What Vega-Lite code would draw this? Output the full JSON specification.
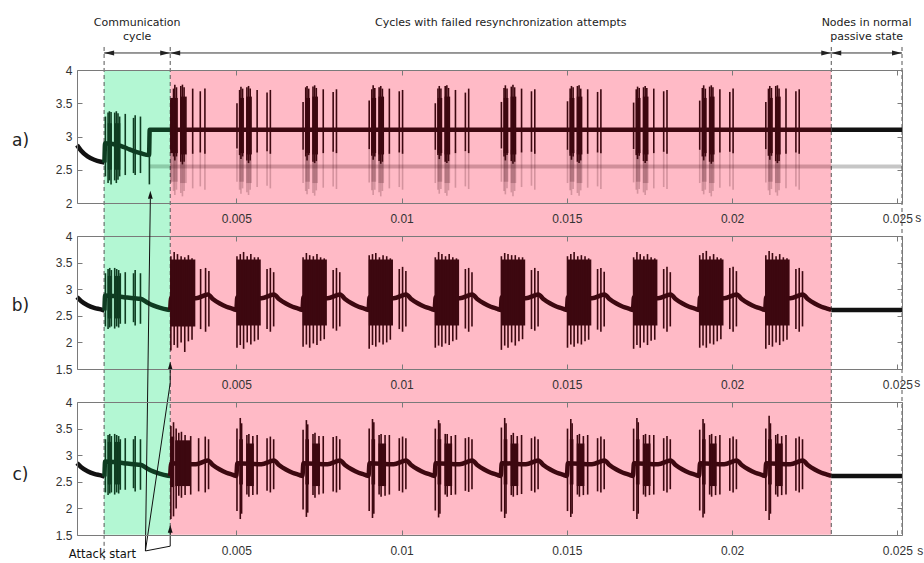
{
"$schema":"https://vega.github.io/schema/vega-lite/v6.json",
"background":"white",
"padding":{"left":11,"top":16,"right":0,"bottom":0},
"bounds":"flush",
"spacing":33,
"config":{"view":{"stroke":null},"axis":{"grid":false,"domainColor":"#7a7a7a","tickColor":"#7a7a7a","labelFont":"Liberation Sans","labelFontSize":12,"labelColor":"#333"}},
"datasets":{
"regions":[{"t0":0.001,"t1":0.003,"r":"comm"},{"t0":0.003,"t1":0.023,"r":"att"}],
"vlines":[{"t":0.001},{"t":0.003},{"t":0.023},{"t":0.02514}],
"spans":[{"t0":0.001,"t1":0.003},{"t0":0.003,"t1":0.023},{"t0":0.023,"t1":0.02514}],
"heads":[{"t":0.002,"label":"Communication\ncycle"},{"t":0.013,"label":"Cycles with failed resynchronization attempts"},{"t":0.02407,"label":"Nodes in normal\npassive state"}],
"aL":[{"t":0.00018,"v":2.87,"s":"pre"},{"t":0.0003,"v":2.79,"s":"pre"},{"t":0.0005,"v":2.7,"s":"pre"},{"t":0.0007,"v":2.65,"s":"pre"},{"t":0.0009,"v":2.62,"s":"pre"},{"t":0.00101,"v":2.61,"s":"pre"},
{"t":0.00101,"v":2.61,"s":"comm"},{"t":0.00103,"v":2.9,"s":"comm"},{"t":0.0015,"v":2.86,"s":"comm"},{"t":0.0017,"v":2.82,"s":"comm"},{"t":0.0019,"v":2.78,"s":"comm"},{"t":0.0021,"v":2.75,"s":"comm"},{"t":0.00236,"v":2.72,"s":"comm"},{"t":0.00238,"v":3.1,"s":"comm"},{"t":0.003,"v":3.1,"s":"comm"},
{"t":0.003,"v":3.1,"s":"att"},{"t":0.023,"v":3.1,"s":"att"},{"t":0.023,"v":3.1,"s":"post"},{"t":0.02514,"v":3.1,"s":"post"}],
"aE":[{"t":0.00238,"v":2.55,"s":"comm"},{"t":0.003,"v":2.55,"s":"comm"},{"t":0.003,"v":2.55,"s":"att"},{"t":0.023,"v":2.55,"s":"att"},{"t":0.023,"v":2.55,"s":"post"},{"t":0.02514,"v":2.55,"s":"post"}],
"aS":[{"t":0.00104,"lo":2.4,"hi":3.3},{"t":0.00112,"lo":2.3,"hi":3.36},{"t":0.00116,"lo":2.34,"hi":3.38},{"t":0.00121,"lo":2.28,"hi":3.37},{"t":0.00132,"lo":2.34,"hi":3.36},{"t":0.00137,"lo":2.3,"hi":3.38},{"t":0.00142,"lo":2.35,"hi":3.35},{"t":0.00147,"lo":2.4,"hi":3.3},{"t":0.00164,"lo":2.42,"hi":3.34},{"t":0.00189,"lo":2.45,"hi":3.28},{"t":0.00194,"lo":2.42,"hi":3.32},{"t":0.0021,"lo":2.45,"hi":3.3},{"t":0.00237,"lo":2.28,"hi":3.1},
{"t":0.00302,"lo":2.8,"hi":3.55,"e":2.3},{"t":0.0031,"lo":2.7,"hi":3.72,"e":2.18},{"t":0.00314,"lo":2.64,"hi":3.78,"e":2.12},{"t":0.00319,"lo":2.7,"hi":3.74,"e":2.2},{"t":0.00332,"lo":2.62,"hi":3.76,"e":2.15},{"t":0.00337,"lo":2.58,"hi":3.78,"e":2.1},{"t":0.00342,"lo":2.62,"hi":3.74,"e":2.18},{"t":0.00368,"lo":2.74,"hi":3.72,"e":2.22},{"t":0.00391,"lo":2.76,"hi":3.68,"e":2.25},{"t":0.00405,"lo":2.74,"hi":3.72,"e":2.2},
{"t":0.00502,"lo":2.82,"hi":3.5,"e":2.32},{"t":0.0051,"lo":2.72,"hi":3.7,"e":2.2},{"t":0.00514,"lo":2.66,"hi":3.75,"e":2.14},{"t":0.00519,"lo":2.7,"hi":3.72,"e":2.22},{"t":0.00532,"lo":2.64,"hi":3.74,"e":2.16},{"t":0.00537,"lo":2.6,"hi":3.76,"e":2.12},{"t":0.00542,"lo":2.64,"hi":3.72,"e":2.2},{"t":0.00563,"lo":2.76,"hi":3.7,"e":2.24},{"t":0.00593,"lo":2.78,"hi":3.66,"e":2.26},{"t":0.00603,"lo":2.74,"hi":3.7,"e":2.22},
{"t":0.00702,"lo":2.8,"hi":3.52,"e":2.3},{"t":0.0071,"lo":2.7,"hi":3.74,"e":2.18},{"t":0.00714,"lo":2.64,"hi":3.76,"e":2.13},{"t":0.00719,"lo":2.72,"hi":3.72,"e":2.21},{"t":0.00732,"lo":2.62,"hi":3.75,"e":2.15},{"t":0.00737,"lo":2.6,"hi":3.77,"e":2.11},{"t":0.00742,"lo":2.63,"hi":3.73,"e":2.19},{"t":0.00763,"lo":2.75,"hi":3.71,"e":2.23},{"t":0.00793,"lo":2.77,"hi":3.67,"e":2.25},{"t":0.00803,"lo":2.75,"hi":3.71,"e":2.21},
{"t":0.00902,"lo":2.81,"hi":3.54,"e":2.31},{"t":0.0091,"lo":2.71,"hi":3.71,"e":2.19},{"t":0.00914,"lo":2.65,"hi":3.77,"e":2.12},{"t":0.00919,"lo":2.7,"hi":3.73,"e":2.2},{"t":0.00932,"lo":2.63,"hi":3.74,"e":2.16},{"t":0.00937,"lo":2.59,"hi":3.76,"e":2.1},{"t":0.00942,"lo":2.62,"hi":3.72,"e":2.18},{"t":0.00963,"lo":2.74,"hi":3.72,"e":2.22},{"t":0.00993,"lo":2.76,"hi":3.68,"e":2.24},{"t":0.01003,"lo":2.74,"hi":3.7,"e":2.2},
{"t":0.01102,"lo":2.8,"hi":3.5,"e":2.3},{"t":0.0111,"lo":2.72,"hi":3.72,"e":2.2},{"t":0.01114,"lo":2.66,"hi":3.76,"e":2.14},{"t":0.01119,"lo":2.71,"hi":3.72,"e":2.21},{"t":0.01132,"lo":2.62,"hi":3.76,"e":2.15},{"t":0.01137,"lo":2.6,"hi":3.77,"e":2.11},{"t":0.01142,"lo":2.63,"hi":3.73,"e":2.19},{"t":0.01163,"lo":2.75,"hi":3.7,"e":2.23},{"t":0.01193,"lo":2.78,"hi":3.66,"e":2.25},{"t":0.01203,"lo":2.75,"hi":3.72,"e":2.21},
{"t":0.01302,"lo":2.82,"hi":3.52,"e":2.32},{"t":0.0131,"lo":2.7,"hi":3.73,"e":2.18},{"t":0.01314,"lo":2.64,"hi":3.77,"e":2.13},{"t":0.01319,"lo":2.72,"hi":3.72,"e":2.22},{"t":0.01332,"lo":2.63,"hi":3.75,"e":2.16},{"t":0.01337,"lo":2.59,"hi":3.78,"e":2.1},{"t":0.01342,"lo":2.62,"hi":3.74,"e":2.18},{"t":0.01363,"lo":2.76,"hi":3.72,"e":2.24},{"t":0.01393,"lo":2.77,"hi":3.68,"e":2.26},{"t":0.01403,"lo":2.74,"hi":3.71,"e":2.2},
{"t":0.01502,"lo":2.8,"hi":3.53,"e":2.3},{"t":0.0151,"lo":2.71,"hi":3.72,"e":2.19},{"t":0.01514,"lo":2.65,"hi":3.76,"e":2.12},{"t":0.01519,"lo":2.7,"hi":3.74,"e":2.21},{"t":0.01532,"lo":2.62,"hi":3.76,"e":2.15},{"t":0.01537,"lo":2.6,"hi":3.77,"e":2.11},{"t":0.01542,"lo":2.64,"hi":3.72,"e":2.19},{"t":0.01563,"lo":2.74,"hi":3.71,"e":2.23},{"t":0.01593,"lo":2.76,"hi":3.67,"e":2.25},{"t":0.01603,"lo":2.75,"hi":3.71,"e":2.21},
{"t":0.01702,"lo":2.81,"hi":3.51,"e":2.31},{"t":0.0171,"lo":2.72,"hi":3.71,"e":2.2},{"t":0.01714,"lo":2.66,"hi":3.75,"e":2.14},{"t":0.01719,"lo":2.71,"hi":3.73,"e":2.21},{"t":0.01732,"lo":2.63,"hi":3.74,"e":2.16},{"t":0.01737,"lo":2.6,"hi":3.76,"e":2.12},{"t":0.01742,"lo":2.63,"hi":3.73,"e":2.19},{"t":0.01763,"lo":2.75,"hi":3.72,"e":2.22},{"t":0.01793,"lo":2.77,"hi":3.68,"e":2.24},{"t":0.01803,"lo":2.74,"hi":3.7,"e":2.21},
{"t":0.01902,"lo":2.8,"hi":3.54,"e":2.3},{"t":0.0191,"lo":2.7,"hi":3.73,"e":2.18},{"t":0.01914,"lo":2.64,"hi":3.77,"e":2.13},{"t":0.01919,"lo":2.7,"hi":3.72,"e":2.2},{"t":0.01932,"lo":2.62,"hi":3.75,"e":2.15},{"t":0.01937,"lo":2.59,"hi":3.77,"e":2.1},{"t":0.01942,"lo":2.62,"hi":3.74,"e":2.18},{"t":0.01963,"lo":2.76,"hi":3.71,"e":2.23},{"t":0.01993,"lo":2.77,"hi":3.67,"e":2.25},{"t":0.02003,"lo":2.75,"hi":3.72,"e":2.2},
{"t":0.02102,"lo":2.81,"hi":3.52,"e":2.31},{"t":0.0211,"lo":2.71,"hi":3.72,"e":2.19},{"t":0.02114,"lo":2.65,"hi":3.76,"e":2.12},{"t":0.02119,"lo":2.71,"hi":3.73,"e":2.21},{"t":0.02132,"lo":2.63,"hi":3.76,"e":2.16},{"t":0.02137,"lo":2.6,"hi":3.77,"e":2.11},{"t":0.02142,"lo":2.63,"hi":3.72,"e":2.19},{"t":0.02163,"lo":2.74,"hi":3.72,"e":2.22},{"t":0.02193,"lo":2.76,"hi":3.68,"e":2.25},{"t":0.02203,"lo":2.74,"hi":3.71,"e":2.2}],
"aB":[{"t0":0.00111,"t1":0.00124,"lo":2.5,"hi":3.2},{"t0":0.00131,"t1":0.00149,"lo":2.5,"hi":3.2},
{"t0":0.003,"t1":0.00323,"lo":2.75,"hi":3.58,"e":2.32},{"t0":0.0033,"t1":0.0035,"lo":2.73,"hi":3.6,"e":2.3},
{"t0":0.00509,"t1":0.00523,"lo":2.75,"hi":3.58,"e":2.32},{"t0":0.0053,"t1":0.00547,"lo":2.73,"hi":3.6,"e":2.3},
{"t0":0.00709,"t1":0.00723,"lo":2.75,"hi":3.58,"e":2.32},{"t0":0.0073,"t1":0.00747,"lo":2.73,"hi":3.6,"e":2.3},
{"t0":0.00909,"t1":0.00923,"lo":2.75,"hi":3.58,"e":2.32},{"t0":0.0093,"t1":0.00947,"lo":2.73,"hi":3.6,"e":2.3},
{"t0":0.01109,"t1":0.01123,"lo":2.75,"hi":3.58,"e":2.32},{"t0":0.0113,"t1":0.01147,"lo":2.73,"hi":3.6,"e":2.3},
{"t0":0.01309,"t1":0.01323,"lo":2.75,"hi":3.58,"e":2.32},{"t0":0.0133,"t1":0.01347,"lo":2.73,"hi":3.6,"e":2.3},
{"t0":0.01509,"t1":0.01523,"lo":2.75,"hi":3.58,"e":2.32},{"t0":0.0153,"t1":0.01547,"lo":2.73,"hi":3.6,"e":2.3},
{"t0":0.01709,"t1":0.01723,"lo":2.75,"hi":3.58,"e":2.32},{"t0":0.0173,"t1":0.01747,"lo":2.73,"hi":3.6,"e":2.3},
{"t0":0.01909,"t1":0.01923,"lo":2.75,"hi":3.58,"e":2.32},{"t0":0.0193,"t1":0.01947,"lo":2.73,"hi":3.6,"e":2.3},
{"t0":0.02109,"t1":0.02123,"lo":2.75,"hi":3.58,"e":2.32},{"t0":0.0213,"t1":0.02147,"lo":2.73,"hi":3.6,"e":2.3}],
"bcL":[{"t":0.00018,"v":2.85,"s":"pre"},{"t":0.0003,"v":2.78,"s":"pre"},{"t":0.0005,"v":2.7,"s":"pre"},{"t":0.0007,"v":2.65,"s":"pre"},{"t":0.0009,"v":2.62,"s":"pre"},{"t":0.00101,"v":2.6,"s":"pre"},
{"t":0.00101,"v":2.6,"s":"comm"},{"t":0.00103,"v":2.88,"s":"comm"},{"t":0.0013,"v":2.87,"s":"comm"},{"t":0.0016,"v":2.85,"s":"comm"},{"t":0.0019,"v":2.83,"s":"comm"},{"t":0.0021,"v":2.82,"s":"comm"},{"t":0.0023,"v":2.75,"s":"comm"},{"t":0.0025,"v":2.69,"s":"comm"},{"t":0.0027,"v":2.65,"s":"comm"},{"t":0.0029,"v":2.62,"s":"comm"},{"t":0.003,"v":2.61,"s":"comm"},
{"t":0.003,"v":2.61,"s":"att"},{"t":0.00303,"v":2.85,"s":"att"},{"t":0.00378,"v":2.83,"s":"att"},{"t":0.00414,"v":2.9,"s":"att"},{"t":0.0043,"v":2.81,"s":"att"},{"t":0.0045,"v":2.73,"s":"att"},{"t":0.0047,"v":2.67,"s":"att"},{"t":0.0049,"v":2.63,"s":"att"},
{"t":0.005,"v":2.61,"s":"att"},{"t":0.00503,"v":2.85,"s":"att"},{"t":0.00576,"v":2.83,"s":"att"},{"t":0.00614,"v":2.9,"s":"att"},{"t":0.0063,"v":2.81,"s":"att"},{"t":0.0065,"v":2.73,"s":"att"},{"t":0.0067,"v":2.67,"s":"att"},{"t":0.0069,"v":2.63,"s":"att"},
{"t":0.007,"v":2.61,"s":"att"},{"t":0.00703,"v":2.85,"s":"att"},{"t":0.00776,"v":2.83,"s":"att"},{"t":0.00814,"v":2.9,"s":"att"},{"t":0.0083,"v":2.81,"s":"att"},{"t":0.0085,"v":2.73,"s":"att"},{"t":0.0087,"v":2.67,"s":"att"},{"t":0.0089,"v":2.63,"s":"att"},
{"t":0.009,"v":2.61,"s":"att"},{"t":0.00903,"v":2.85,"s":"att"},{"t":0.00976,"v":2.83,"s":"att"},{"t":0.01014,"v":2.9,"s":"att"},{"t":0.0103,"v":2.81,"s":"att"},{"t":0.0105,"v":2.73,"s":"att"},{"t":0.0107,"v":2.67,"s":"att"},{"t":0.0109,"v":2.63,"s":"att"},
{"t":0.011,"v":2.61,"s":"att"},{"t":0.01103,"v":2.85,"s":"att"},{"t":0.01176,"v":2.83,"s":"att"},{"t":0.01214,"v":2.9,"s":"att"},{"t":0.0123,"v":2.81,"s":"att"},{"t":0.0125,"v":2.73,"s":"att"},{"t":0.0127,"v":2.67,"s":"att"},{"t":0.0129,"v":2.63,"s":"att"},
{"t":0.013,"v":2.61,"s":"att"},{"t":0.01303,"v":2.85,"s":"att"},{"t":0.01376,"v":2.83,"s":"att"},{"t":0.01414,"v":2.9,"s":"att"},{"t":0.0143,"v":2.81,"s":"att"},{"t":0.0145,"v":2.73,"s":"att"},{"t":0.0147,"v":2.67,"s":"att"},{"t":0.0149,"v":2.63,"s":"att"},
{"t":0.015,"v":2.61,"s":"att"},{"t":0.01503,"v":2.85,"s":"att"},{"t":0.01576,"v":2.83,"s":"att"},{"t":0.01614,"v":2.9,"s":"att"},{"t":0.0163,"v":2.81,"s":"att"},{"t":0.0165,"v":2.73,"s":"att"},{"t":0.0167,"v":2.67,"s":"att"},{"t":0.0169,"v":2.63,"s":"att"},
{"t":0.017,"v":2.61,"s":"att"},{"t":0.01703,"v":2.85,"s":"att"},{"t":0.01776,"v":2.83,"s":"att"},{"t":0.01814,"v":2.9,"s":"att"},{"t":0.0183,"v":2.81,"s":"att"},{"t":0.0185,"v":2.73,"s":"att"},{"t":0.0187,"v":2.67,"s":"att"},{"t":0.0189,"v":2.63,"s":"att"},
{"t":0.019,"v":2.61,"s":"att"},{"t":0.01903,"v":2.85,"s":"att"},{"t":0.01976,"v":2.83,"s":"att"},{"t":0.02014,"v":2.9,"s":"att"},{"t":0.0203,"v":2.81,"s":"att"},{"t":0.0205,"v":2.73,"s":"att"},{"t":0.0207,"v":2.67,"s":"att"},{"t":0.0209,"v":2.63,"s":"att"},
{"t":0.021,"v":2.61,"s":"att"},{"t":0.02103,"v":2.85,"s":"att"},{"t":0.02176,"v":2.83,"s":"att"},{"t":0.02214,"v":2.9,"s":"att"},{"t":0.0223,"v":2.81,"s":"att"},{"t":0.0225,"v":2.73,"s":"att"},{"t":0.0227,"v":2.67,"s":"att"},{"t":0.0229,"v":2.63,"s":"att"},
{"t":0.023,"v":2.61,"s":"att"},{"t":0.023,"v":2.61,"s":"post"},{"t":0.02514,"v":2.61,"s":"post"}],
"bS":[{"t":0.00104,"lo":2.3,"hi":3.3},{"t":0.00112,"lo":2.25,"hi":3.38},{"t":0.00117,"lo":2.28,"hi":3.4},{"t":0.00122,"lo":2.3,"hi":3.36},{"t":0.00132,"lo":2.26,"hi":3.4},{"t":0.00138,"lo":2.3,"hi":3.38},{"t":0.00144,"lo":2.28,"hi":3.36},{"t":0.00149,"lo":2.35,"hi":3.3},{"t":0.00164,"lo":2.35,"hi":3.32},{"t":0.00189,"lo":2.38,"hi":3.3},{"t":0.00194,"lo":2.32,"hi":3.36},{"t":0.0021,"lo":2.35,"hi":3.3},
{"t":0.00302,"lo":1.85,"hi":3.62},{"t":0.00312,"lo":1.95,"hi":3.7},{"t":0.00322,"lo":1.9,"hi":3.66},{"t":0.00333,"lo":2.0,"hi":3.62},{"t":0.00344,"lo":1.82,"hi":3.6},{"t":0.00355,"lo":2.02,"hi":3.64},{"t":0.00366,"lo":2.05,"hi":3.58},{"t":0.00392,"lo":2.25,"hi":3.38},{"t":0.00407,"lo":2.2,"hi":3.4},{"t":0.00417,"lo":2.3,"hi":3.34},
{"t":0.00502,"lo":1.9,"hi":3.62},{"t":0.00512,"lo":1.95,"hi":3.66},{"t":0.00522,"lo":1.88,"hi":3.7},{"t":0.00533,"lo":2.0,"hi":3.62},{"t":0.00544,"lo":1.96,"hi":3.66},{"t":0.00555,"lo":2.02,"hi":3.6},{"t":0.00566,"lo":2.05,"hi":3.6},{"t":0.00593,"lo":2.25,"hi":3.38},{"t":0.00603,"lo":2.2,"hi":3.4},{"t":0.00613,"lo":2.3,"hi":3.32},
{"t":0.00702,"lo":1.92,"hi":3.6},{"t":0.00712,"lo":1.96,"hi":3.68},{"t":0.00722,"lo":1.9,"hi":3.64},{"t":0.00733,"lo":1.98,"hi":3.62},{"t":0.00744,"lo":1.95,"hi":3.66},{"t":0.00755,"lo":2.03,"hi":3.6},{"t":0.00766,"lo":2.06,"hi":3.58},{"t":0.00793,"lo":2.26,"hi":3.36},{"t":0.00803,"lo":2.22,"hi":3.4},{"t":0.00813,"lo":2.3,"hi":3.32},
{"t":0.00902,"lo":1.88,"hi":3.64},{"t":0.00912,"lo":1.95,"hi":3.66},{"t":0.00922,"lo":1.92,"hi":3.68},{"t":0.00933,"lo":2.0,"hi":3.6},{"t":0.00944,"lo":1.96,"hi":3.64},{"t":0.00955,"lo":2.0,"hi":3.62},{"t":0.00966,"lo":2.05,"hi":3.58},{"t":0.00993,"lo":2.25,"hi":3.38},{"t":0.01003,"lo":2.2,"hi":3.42},{"t":0.01013,"lo":2.3,"hi":3.34},
{"t":0.01102,"lo":1.9,"hi":3.6},{"t":0.01112,"lo":1.94,"hi":3.7},{"t":0.01122,"lo":1.92,"hi":3.66},{"t":0.01133,"lo":1.98,"hi":3.62},{"t":0.01144,"lo":1.95,"hi":3.66},{"t":0.01155,"lo":2.02,"hi":3.6},{"t":0.01166,"lo":2.05,"hi":3.58},{"t":0.01193,"lo":2.26,"hi":3.38},{"t":0.01203,"lo":2.2,"hi":3.4},{"t":0.01213,"lo":2.3,"hi":3.32},
{"t":0.01302,"lo":1.86,"hi":3.62},{"t":0.01312,"lo":1.94,"hi":3.68},{"t":0.01322,"lo":1.9,"hi":3.66},{"t":0.01333,"lo":2.0,"hi":3.64},{"t":0.01344,"lo":1.94,"hi":3.64},{"t":0.01355,"lo":2.02,"hi":3.6},{"t":0.01366,"lo":2.06,"hi":3.6},{"t":0.01393,"lo":2.25,"hi":3.36},{"t":0.01403,"lo":2.22,"hi":3.4},{"t":0.01413,"lo":2.3,"hi":3.34},
{"t":0.01502,"lo":1.9,"hi":3.62},{"t":0.01512,"lo":1.96,"hi":3.66},{"t":0.01522,"lo":1.92,"hi":3.7},{"t":0.01533,"lo":1.98,"hi":3.62},{"t":0.01544,"lo":1.96,"hi":3.64},{"t":0.01555,"lo":2.02,"hi":3.62},{"t":0.01566,"lo":2.05,"hi":3.58},{"t":0.01593,"lo":2.24,"hi":3.38},{"t":0.01603,"lo":2.2,"hi":3.4},{"t":0.01613,"lo":2.3,"hi":3.33},
{"t":0.01702,"lo":1.88,"hi":3.6},{"t":0.01712,"lo":1.95,"hi":3.7},{"t":0.01722,"lo":1.9,"hi":3.66},{"t":0.01733,"lo":2.0,"hi":3.62},{"t":0.01744,"lo":1.95,"hi":3.66},{"t":0.01755,"lo":2.03,"hi":3.6},{"t":0.01766,"lo":2.05,"hi":3.58},{"t":0.01793,"lo":2.26,"hi":3.38},{"t":0.01803,"lo":2.2,"hi":3.42},{"t":0.01813,"lo":2.3,"hi":3.32},
{"t":0.01902,"lo":1.9,"hi":3.64},{"t":0.01912,"lo":1.94,"hi":3.68},{"t":0.01922,"lo":1.9,"hi":3.72},{"t":0.01933,"lo":1.98,"hi":3.62},{"t":0.01944,"lo":1.96,"hi":3.66},{"t":0.01955,"lo":2.02,"hi":3.6},{"t":0.01966,"lo":2.06,"hi":3.58},{"t":0.01993,"lo":2.25,"hi":3.4},{"t":0.02003,"lo":2.2,"hi":3.42},{"t":0.02013,"lo":2.3,"hi":3.34},
{"t":0.02102,"lo":1.88,"hi":3.64},{"t":0.02112,"lo":1.95,"hi":3.72},{"t":0.02122,"lo":1.92,"hi":3.68},{"t":0.02133,"lo":2.0,"hi":3.62},{"t":0.02144,"lo":1.95,"hi":3.66},{"t":0.02155,"lo":2.02,"hi":3.6},{"t":0.02166,"lo":2.05,"hi":3.58},{"t":0.02193,"lo":2.25,"hi":3.38},{"t":0.02203,"lo":2.2,"hi":3.4},{"t":0.02213,"lo":2.3,"hi":3.34}],
"bB":[{"t0":0.00111,"t1":0.00124,"lo":2.45,"hi":3.25},{"t0":0.0013,"t1":0.0015,"lo":2.45,"hi":3.25},
{"t0":0.003,"t1":0.00376,"lo":2.3,"hi":3.56},{"t0":0.00501,"t1":0.00574,"lo":2.32,"hi":3.56},{"t0":0.00701,"t1":0.00774,"lo":2.32,"hi":3.56},{"t0":0.00901,"t1":0.00974,"lo":2.32,"hi":3.56},{"t0":0.01101,"t1":0.01174,"lo":2.32,"hi":3.56},{"t0":0.01301,"t1":0.01374,"lo":2.32,"hi":3.56},{"t0":0.01501,"t1":0.01574,"lo":2.32,"hi":3.56},{"t0":0.01701,"t1":0.01774,"lo":2.32,"hi":3.56},{"t0":0.01901,"t1":0.01974,"lo":2.32,"hi":3.56},{"t0":0.02101,"t1":0.02174,"lo":2.32,"hi":3.56}],
"cS":[{"t":0.00104,"lo":2.3,"hi":3.3},{"t":0.00112,"lo":2.25,"hi":3.38},{"t":0.00117,"lo":2.28,"hi":3.4},{"t":0.00122,"lo":2.3,"hi":3.36},{"t":0.00132,"lo":2.26,"hi":3.4},{"t":0.00138,"lo":2.3,"hi":3.38},{"t":0.00144,"lo":2.28,"hi":3.36},{"t":0.00149,"lo":2.35,"hi":3.3},{"t":0.00164,"lo":2.35,"hi":3.32},{"t":0.00189,"lo":2.38,"hi":3.3},{"t":0.00194,"lo":2.32,"hi":3.36},{"t":0.0021,"lo":2.35,"hi":3.3},
{"t":0.00302,"lo":1.8,"hi":3.55},{"t":0.0031,"lo":1.85,"hi":3.62},{"t":0.00318,"lo":2.0,"hi":3.5},{"t":0.00326,"lo":2.24,"hi":3.42},{"t":0.00334,"lo":2.2,"hi":3.44},{"t":0.00345,"lo":2.25,"hi":3.38},{"t":0.00362,"lo":2.26,"hi":3.36},{"t":0.00386,"lo":2.32,"hi":3.32},{"t":0.00406,"lo":2.3,"hi":3.35},{"t":0.00416,"lo":2.36,"hi":3.3},
{"t":0.00502,"lo":1.95,"hi":3.5},{"t":0.00512,"lo":1.8,"hi":3.7},{"t":0.00516,"lo":1.9,"hi":3.6},{"t":0.00532,"lo":2.26,"hi":3.38},{"t":0.00538,"lo":2.22,"hi":3.4},{"t":0.0055,"lo":2.25,"hi":3.36},{"t":0.00563,"lo":2.26,"hi":3.38},{"t":0.00593,"lo":2.33,"hi":3.32},{"t":0.00603,"lo":2.3,"hi":3.35},{"t":0.00613,"lo":2.36,"hi":3.3},
{"t":0.00702,"lo":1.98,"hi":3.48},{"t":0.00712,"lo":1.84,"hi":3.66},{"t":0.00716,"lo":1.92,"hi":3.58},{"t":0.00732,"lo":2.25,"hi":3.4},{"t":0.00738,"lo":2.2,"hi":3.42},{"t":0.0075,"lo":2.26,"hi":3.36},{"t":0.00763,"lo":2.28,"hi":3.36},{"t":0.00793,"lo":2.32,"hi":3.34},{"t":0.00803,"lo":2.3,"hi":3.36},{"t":0.00813,"lo":2.35,"hi":3.3},
{"t":0.00902,"lo":1.95,"hi":3.5},{"t":0.00912,"lo":1.82,"hi":3.68},{"t":0.00916,"lo":1.9,"hi":3.62},{"t":0.00932,"lo":2.26,"hi":3.38},{"t":0.00938,"lo":2.22,"hi":3.4},{"t":0.0095,"lo":2.24,"hi":3.38},{"t":0.00963,"lo":2.26,"hi":3.38},{"t":0.00993,"lo":2.33,"hi":3.32},{"t":0.01003,"lo":2.3,"hi":3.35},{"t":0.01013,"lo":2.36,"hi":3.32},
{"t":0.01102,"lo":1.96,"hi":3.5},{"t":0.01112,"lo":1.83,"hi":3.66},{"t":0.01116,"lo":1.9,"hi":3.6},{"t":0.01132,"lo":2.26,"hi":3.4},{"t":0.01138,"lo":2.22,"hi":3.4},{"t":0.0115,"lo":2.25,"hi":3.36},{"t":0.01163,"lo":2.26,"hi":3.38},{"t":0.01193,"lo":2.33,"hi":3.32},{"t":0.01203,"lo":2.31,"hi":3.34},{"t":0.01213,"lo":2.36,"hi":3.3},
{"t":0.01302,"lo":1.94,"hi":3.52},{"t":0.01312,"lo":1.82,"hi":3.7},{"t":0.01316,"lo":1.9,"hi":3.6},{"t":0.01332,"lo":2.25,"hi":3.38},{"t":0.01338,"lo":2.22,"hi":3.42},{"t":0.0135,"lo":2.25,"hi":3.36},{"t":0.01363,"lo":2.27,"hi":3.38},{"t":0.01393,"lo":2.33,"hi":3.32},{"t":0.01403,"lo":2.3,"hi":3.35},{"t":0.01413,"lo":2.36,"hi":3.3},
{"t":0.01502,"lo":1.95,"hi":3.5},{"t":0.01512,"lo":1.84,"hi":3.68},{"t":0.01516,"lo":1.9,"hi":3.6},{"t":0.01532,"lo":2.26,"hi":3.38},{"t":0.01538,"lo":2.22,"hi":3.4},{"t":0.0155,"lo":2.25,"hi":3.36},{"t":0.01563,"lo":2.26,"hi":3.38},{"t":0.01593,"lo":2.32,"hi":3.32},{"t":0.01603,"lo":2.3,"hi":3.35},{"t":0.01613,"lo":2.36,"hi":3.3},
{"t":0.01702,"lo":1.95,"hi":3.5},{"t":0.01712,"lo":1.8,"hi":3.7},{"t":0.01716,"lo":1.9,"hi":3.62},{"t":0.01732,"lo":2.26,"hi":3.38},{"t":0.01738,"lo":2.22,"hi":3.4},{"t":0.0175,"lo":2.25,"hi":3.38},{"t":0.01763,"lo":2.26,"hi":3.38},{"t":0.01793,"lo":2.33,"hi":3.32},{"t":0.01803,"lo":2.3,"hi":3.36},{"t":0.01813,"lo":2.36,"hi":3.3},
{"t":0.01902,"lo":1.96,"hi":3.48},{"t":0.01912,"lo":1.83,"hi":3.68},{"t":0.01916,"lo":1.9,"hi":3.6},{"t":0.01932,"lo":2.26,"hi":3.38},{"t":0.01938,"lo":2.22,"hi":3.4},{"t":0.0195,"lo":2.25,"hi":3.36},{"t":0.01963,"lo":2.26,"hi":3.38},{"t":0.01993,"lo":2.33,"hi":3.32},{"t":0.02003,"lo":2.3,"hi":3.35},{"t":0.02013,"lo":2.36,"hi":3.3},
{"t":0.02102,"lo":1.95,"hi":3.5},{"t":0.02112,"lo":1.78,"hi":3.74},{"t":0.02116,"lo":1.9,"hi":3.6},{"t":0.02132,"lo":2.26,"hi":3.38},{"t":0.02138,"lo":2.22,"hi":3.4},{"t":0.0215,"lo":2.25,"hi":3.36},{"t":0.02163,"lo":2.26,"hi":3.38},{"t":0.02193,"lo":2.33,"hi":3.32},{"t":0.02203,"lo":2.3,"hi":3.35},{"t":0.02213,"lo":2.36,"hi":3.3}],
"cB":[{"t0":0.00111,"t1":0.00124,"lo":2.45,"hi":3.25},{"t0":0.0013,"t1":0.0015,"lo":2.45,"hi":3.25},
{"t0":0.003,"t1":0.00312,"lo":2.4,"hi":3.35},{"t0":0.00315,"t1":0.0036,"lo":2.42,"hi":3.28},
{"t0":0.00509,"t1":0.0052,"lo":2.45,"hi":3.3},{"t0":0.0053,"t1":0.00553,"lo":2.42,"hi":3.22},
{"t0":0.00709,"t1":0.0072,"lo":2.45,"hi":3.3},{"t0":0.0073,"t1":0.00753,"lo":2.42,"hi":3.22},
{"t0":0.00909,"t1":0.0092,"lo":2.45,"hi":3.3},{"t0":0.0093,"t1":0.00953,"lo":2.42,"hi":3.22},
{"t0":0.01109,"t1":0.0112,"lo":2.45,"hi":3.3},{"t0":0.0113,"t1":0.01153,"lo":2.42,"hi":3.22},
{"t0":0.01309,"t1":0.0132,"lo":2.45,"hi":3.3},{"t0":0.0133,"t1":0.01353,"lo":2.42,"hi":3.22},
{"t0":0.01509,"t1":0.0152,"lo":2.45,"hi":3.3},{"t0":0.0153,"t1":0.01553,"lo":2.42,"hi":3.22},
{"t0":0.01709,"t1":0.0172,"lo":2.45,"hi":3.3},{"t0":0.0173,"t1":0.01753,"lo":2.42,"hi":3.22},
{"t0":0.01909,"t1":0.0192,"lo":2.45,"hi":3.3},{"t0":0.0193,"t1":0.01953,"lo":2.42,"hi":3.22},
{"t0":0.02109,"t1":0.0212,"lo":2.45,"hi":3.3},{"t0":0.0213,"t1":0.02153,"lo":2.42,"hi":3.22}],
"atk":[{"k":1,"o":0,"t":0.00225,"v":1.2},{"k":1,"o":1,"t":0.002399,"v":7.82},{"k":2,"o":0,"t":0.00225,"v":1.2},{"k":2,"o":1,"t":0.003,"v":4.357},{"k":2,"o":2,"t":0.003,"v":4.607},{"k":3,"o":0,"t":0.00225,"v":1.2},{"k":3,"o":1,"t":0.003,"v":1.29},{"k":3,"o":2,"t":0.003,"v":1.556}]
},
"vconcat":[
{"width":825,"height":133,
"resolve":{"scale":{"color":"independent"},"axis":{"x":"independent","y":"independent"}},
"layer":[
{"data":{"name":"regions"},"mark":{"type":"rect"},"encoding":{"x":{"field":"t0","type":"quantitative","scale":{"domain":[0.00018,0.02514],"nice":false,"zero":false},"axis":null},"x2":{"field":"t1"},"y":{"datum":4,"type":"quantitative","scale":{"domain":[2,4],"nice":false,"zero":false},"axis":null},"y2":{"datum":-2.99},"color":{"field":"r","type":"nominal","scale":{"domain":["comm","att"],"range":["#b3f7d3","#ffbac6"]},"legend":null}}},
{"data":{"name":"vlines"},"mark":{"type":"rule","strokeDash":[4,3],"color":"#555","strokeWidth":1},"encoding":{"x":{"field":"t","type":"quantitative","axis":null},"y":{"datum":4.346,"type":"quantitative","axis":null},"y2":{"datum":-2.99}}},
{"data":{"values":[{"t":0.001}]},"mark":{"type":"rule","strokeDash":[4,3],"color":"#555","strokeWidth":1},"encoding":{"x":{"field":"t","type":"quantitative","axis":null},"y":{"datum":-2.99,"type":"quantitative","axis":null},"y2":{"datum":-3.4}}},
{"data":{"name":"spans"},"mark":{"type":"rule","color":"#333","strokeWidth":1},"encoding":{"x":{"field":"t0","type":"quantitative","axis":null},"x2":{"field":"t1"},"y":{"datum":4.256,"type":"quantitative","axis":null}}},
{"data":{"name":"spans"},"mark":{"type":"point","shape":"M0,0 L2,-0.5 L2,0.5 Z","filled":true,"size":100,"color":"#222","opacity":1},"encoding":{"x":{"field":"t0","type":"quantitative","axis":null},"y":{"datum":4.256,"type":"quantitative","axis":null}}},
{"data":{"name":"spans"},"mark":{"type":"point","shape":"M0,0 L-2,-0.5 L-2,0.5 Z","filled":true,"size":100,"color":"#222","opacity":1},"encoding":{"x":{"field":"t1","type":"quantitative","axis":null},"y":{"datum":4.256,"type":"quantitative","axis":null}}},
{"data":{"name":"heads"},"mark":{"type":"text","font":"DejaVu Sans","fontSize":11,"lineBreak":"\n","lineHeight":14,"color":"#222","baseline":"middle","align":"center"},"encoding":{"x":{"field":"t","type":"quantitative","axis":null},"y":{"datum":4.707,"type":"quantitative","axis":null},"text":{"field":"label"}}},
{"data":{"name":"aB"},"mark":{"type":"rect","opacity":0.22},"encoding":{"x":{"field":"t0","type":"quantitative","axis":null},"x2":{"field":"t1"},"y":{"field":"e","type":"quantitative","axis":null},"y2":{"datum":2.8},"color":{"field":"t0","type":"quantitative","scale":{"type":"threshold","domain":[0.003,0.023],"range":["#0f3d22","#3d0810","#111111"]},"legend":null}}},
{"data":{"name":"aS"},"mark":{"type":"rule","strokeWidth":1.6,"opacity":0.22},"encoding":{"x":{"field":"t","type":"quantitative","axis":null},"y":{"field":"e","type":"quantitative","axis":null},"y2":{"datum":2.8},"color":{"field":"t","type":"quantitative","scale":{"type":"threshold","domain":[0.003,0.023],"range":["#0f3d22","#3d0810","#111111"]},"legend":null}}},
{"data":{"name":"aE"},"mark":{"type":"line","strokeWidth":4,"opacity":0.24},"encoding":{"x":{"field":"t","type":"quantitative","axis":null},"y":{"field":"v","type":"quantitative","axis":null},"color":{"field":"s","type":"nominal","scale":{"domain":["pre","comm","att","post"],"range":["#111111","#0f3d22","#3d0810","#111111"]},"legend":null}}},
{"data":{"name":"aL"},"mark":{"type":"line","strokeWidth":4.5,"interpolate":"monotone"},"encoding":{"x":{"field":"t","type":"quantitative","axis":{"orient":"bottom","values":[0.005,0.01,0.015,0.02,0.025],"format":"~g","title":null,"tickSize":-5,"labelPadding":15,"labelFlush":false,"zindex":1}},"y":{"field":"v","type":"quantitative","axis":{"orient":"left","values":[2,2.5,3,3.5,4],"format":"~g","title":"a)","titleAngle":0,"titleX":-57,"titleY":70,"titleAlign":"center","titleBaseline":"middle","titleFont":"DejaVu Sans","titleFontSize":17,"titleFontWeight":"normal","titleColor":"#222","tickSize":-5,"labelPadding":10,"labelFlush":false,"zindex":1}},"color":{"field":"s","type":"nominal","scale":{"domain":["pre","comm","att","post"],"range":["#111111","#0f3d22","#3d0810","#111111"]},"legend":null}}},
{"data":{"name":"aB"},"mark":{"type":"rect"},"encoding":{"x":{"field":"t0","type":"quantitative","axis":null},"x2":{"field":"t1"},"y":{"field":"lo","type":"quantitative","axis":null},"y2":{"field":"hi"},"color":{"field":"t0","type":"quantitative","scale":{"type":"threshold","domain":[0.003,0.023],"range":["#0f3d22","#3d0810","#111111"]},"legend":null}}},
{"data":{"name":"aS"},"mark":{"type":"rule","strokeWidth":1.6},"encoding":{"x":{"field":"t","type":"quantitative","axis":{"orient":"top","values":[0.005,0.01,0.015,0.02,0.025],"labels":false,"title":null,"tickSize":-5,"zindex":1}},"y":{"field":"lo","type":"quantitative","axis":{"orient":"right","values":[2,2.5,3,3.5,4],"labels":false,"title":null,"tickSize":-5,"zindex":1}},"y2":{"field":"hi"},"color":{"field":"t","type":"quantitative","scale":{"type":"threshold","domain":[0.003,0.023],"range":["#0f3d22","#3d0810","#111111"]},"legend":null}}},
{"data":{"values":[{"t":0.002399,"v":2.185}]},"mark":{"type":"point","shape":"M0,0 L-0.6,2 L0.6,2 Z","filled":true,"size":64,"color":"#111","opacity":1},"encoding":{"x":{"field":"t","type":"quantitative","axis":null},"y":{"field":"v","type":"quantitative","axis":null}}},
{"data":{"values":[{"t":0.02563,"v":1.774,"label":"s"}]},"mark":{"type":"text","font":"Liberation Sans","fontSize":12,"color":"#333","baseline":"middle","align":"center"},"encoding":{"x":{"field":"t","type":"quantitative","axis":null},"y":{"field":"v","type":"quantitative","axis":null},"text":{"field":"label"}}}
]},
{"width":825,"height":133,
"resolve":{"scale":{"color":"independent"},"axis":{"x":"independent","y":"independent"}},
"layer":[
{"data":{"name":"bcL"},"mark":{"type":"line","strokeWidth":4.5,"interpolate":"monotone"},"encoding":{"x":{"field":"t","type":"quantitative","scale":{"domain":[0.00018,0.02514],"nice":false,"zero":false},"axis":{"orient":"bottom","values":[0.005,0.01,0.015,0.02,0.025],"format":"~g","title":null,"tickSize":-5,"labelPadding":15,"labelFlush":false,"zindex":1}},"y":{"field":"v","type":"quantitative","scale":{"domain":[1.5,4],"nice":false,"zero":false},"axis":{"orient":"left","values":[1.5,2,2.5,3,3.5,4],"format":"~g","title":"b)","titleAngle":0,"titleX":-57,"titleY":69,"titleAlign":"center","titleBaseline":"middle","titleFont":"DejaVu Sans","titleFontSize":17,"titleFontWeight":"normal","titleColor":"#222","tickSize":-5,"labelPadding":10,"labelFlush":false,"zindex":1}},"color":{"field":"s","type":"nominal","scale":{"domain":["pre","comm","att","post"],"range":["#111111","#0f3d22","#3d0810","#111111"]},"legend":null}}},
{"data":{"name":"bB"},"mark":{"type":"rect"},"encoding":{"x":{"field":"t0","type":"quantitative","axis":null},"x2":{"field":"t1"},"y":{"field":"lo","type":"quantitative","axis":null},"y2":{"field":"hi"},"color":{"field":"t0","type":"quantitative","scale":{"type":"threshold","domain":[0.003,0.023],"range":["#0f3d22","#3d0810","#111111"]},"legend":null}}},
{"data":{"name":"bS"},"mark":{"type":"rule","strokeWidth":1.6},"encoding":{"x":{"field":"t","type":"quantitative","axis":{"orient":"top","values":[0.005,0.01,0.015,0.02,0.025],"labels":false,"title":null,"tickSize":-5,"zindex":1}},"y":{"field":"lo","type":"quantitative","axis":{"orient":"right","values":[1.5,2,2.5,3,3.5,4],"labels":false,"title":null,"tickSize":-5,"zindex":1}},"y2":{"field":"hi"},"color":{"field":"t","type":"quantitative","scale":{"type":"threshold","domain":[0.003,0.023],"range":["#0f3d22","#3d0810","#111111"]},"legend":null}}},
{"data":{"values":[{"t":0.003,"v":1.637}]},"mark":{"type":"point","shape":"M0,0 L-0.6,2 L0.6,2 Z","filled":true,"size":64,"color":"#111","opacity":1},"encoding":{"x":{"field":"t","type":"quantitative","axis":null},"y":{"field":"v","type":"quantitative","axis":null}}},
{"data":{"values":[{"t":0.0256,"v":1.237,"label":"s"}]},"mark":{"type":"text","font":"Liberation Sans","fontSize":12,"color":"#333","baseline":"middle","align":"center"},"encoding":{"x":{"field":"t","type":"quantitative","axis":null},"y":{"field":"v","type":"quantitative","axis":null},"text":{"field":"label"}}}
]},
{"width":825,"height":133,
"resolve":{"scale":{"color":"independent"},"axis":{"x":"independent","y":"independent"}},
"layer":[
{"data":{"name":"bcL"},"mark":{"type":"line","strokeWidth":4.5,"interpolate":"monotone"},"encoding":{"x":{"field":"t","type":"quantitative","scale":{"domain":[0.00018,0.02514],"nice":false,"zero":false},"axis":{"orient":"bottom","values":[0.005,0.01,0.015,0.02,0.025],"format":"~g","title":null,"tickSize":-5,"labelPadding":15,"labelFlush":false,"zindex":1}},"y":{"field":"v","type":"quantitative","scale":{"domain":[1.5,4],"nice":false,"zero":false},"axis":{"orient":"left","values":[1.5,2,2.5,3,3.5,4],"format":"~g","title":"c)","titleAngle":0,"titleX":-57,"titleY":72,"titleAlign":"center","titleBaseline":"middle","titleFont":"DejaVu Sans","titleFontSize":17,"titleFontWeight":"normal","titleColor":"#222","tickSize":-5,"labelPadding":10,"labelFlush":false,"zindex":1}},"color":{"field":"s","type":"nominal","scale":{"domain":["pre","comm","att","post"],"range":["#111111","#0f3d22","#3d0810","#111111"]},"legend":null}}},
{"data":{"name":"cB"},"mark":{"type":"rect"},"encoding":{"x":{"field":"t0","type":"quantitative","axis":null},"x2":{"field":"t1"},"y":{"field":"lo","type":"quantitative","axis":null},"y2":{"field":"hi"},"color":{"field":"t0","type":"quantitative","scale":{"type":"threshold","domain":[0.003,0.023],"range":["#0f3d22","#3d0810","#111111"]},"legend":null}}},
{"data":{"name":"cS"},"mark":{"type":"rule","strokeWidth":1.6},"encoding":{"x":{"field":"t","type":"quantitative","axis":{"orient":"top","values":[0.005,0.01,0.015,0.02,0.025],"labels":false,"title":null,"tickSize":-5,"zindex":1}},"y":{"field":"lo","type":"quantitative","axis":{"orient":"right","values":[1.5,2,2.5,3,3.5,4],"labels":false,"title":null,"tickSize":-5,"zindex":1}},"y2":{"field":"hi"},"color":{"field":"t","type":"quantitative","scale":{"type":"threshold","domain":[0.003,0.023],"range":["#0f3d22","#3d0810","#111111"]},"legend":null}}},
{"data":{"name":"atk"},"mark":{"type":"line","color":"#111","strokeWidth":1},"encoding":{"x":{"field":"t","type":"quantitative","axis":null},"y":{"field":"v","type":"quantitative","axis":null},"detail":{"field":"k"},"order":{"field":"o"}}},
{"data":{"values":[{"t":0.003,"v":1.694}]},"mark":{"type":"point","shape":"M0,0 L-0.6,2 L0.6,2 Z","filled":true,"size":64,"color":"#111","opacity":1},"encoding":{"x":{"field":"t","type":"quantitative","axis":null},"y":{"field":"v","type":"quantitative","axis":null}}},
{"data":{"values":[{"t":0.00095,"v":1.12,"label":"Attack start"}]},"mark":{"type":"text","font":"DejaVu Sans","fontSize":11.5,"color":"#111","baseline":"middle","align":"center"},"encoding":{"x":{"field":"t","type":"quantitative","axis":null},"y":{"field":"v","type":"quantitative","axis":null},"text":{"field":"label"}}},
{"data":{"values":[{"t":0.02569,"v":1.205,"label":"s"}]},"mark":{"type":"text","font":"Liberation Sans","fontSize":12,"color":"#333","baseline":"middle","align":"center"},"encoding":{"x":{"field":"t","type":"quantitative","axis":null},"y":{"field":"v","type":"quantitative","axis":null},"text":{"field":"label"}}}
]}
]
}
